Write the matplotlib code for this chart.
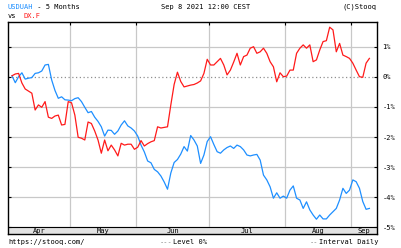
import numpy as np
import matplotlib
matplotlib.use("Agg")
import matplotlib.pyplot as plt

plt.rcParams['font.family'] = ['DejaVu Sans Mono']
plt.rcParams['axes.unicode_minus'] = False

# trading days per month shown on the chart
MONTHS = ["Apr", "May", "Jun", "Jul", "Aug", "Sep"]
DAYS_IN_MONTH = [18, 20, 22, 23, 20, 6]

# % change since start
usduah = [0.04, -0.19, 0.01, 0.14, -0.07, -0.04, -0.02, 0.12, 0.14, 0.20,
          0.40, 0.42, -0.10, -0.45, -0.71, -0.66, -0.76, -0.77, -0.79, -0.72,
          -0.69, -0.82, -1.01, -1.19, -1.15, -1.34, -1.48, -1.66, -1.97, -1.77,
          -1.78, -1.91, -1.80, -1.60, -1.46, -1.63, -1.70, -1.80, -1.97, -2.27,
          -2.50, -2.80, -2.86, -3.08, -3.16, -3.30, -3.50, -3.74, -3.20, -2.85,
          -2.75, -2.57, -2.32, -2.47, -1.95, -2.10, -2.30, -2.88, -2.60, -2.15,
          -1.99, -2.25, -2.49, -2.54, -2.43, -2.35, -2.30, -2.38, -2.27, -2.32,
          -2.43, -2.60, -2.63, -2.60, -2.58, -2.77, -3.27, -3.43, -3.66, -4.04,
          -3.86, -4.04, -3.97, -4.04, -3.77, -3.63, -4.04, -4.10, -4.38, -4.16,
          -4.43, -4.60, -4.74, -4.60, -4.73, -4.73, -4.60, -4.49, -4.38, -4.10,
          -3.71, -3.88, -3.77, -3.43, -3.49, -3.71, -4.15, -4.41, -4.38]

dxf = [0.04, 0.10, 0.12, -0.20, -0.40, -0.47, -0.54, -1.10, -0.93, -1.01,
       -0.82, -1.34, -1.38, -1.30, -1.27, -1.60, -1.58, -0.82, -0.86, -1.27,
       -2.01, -2.04, -2.10, -1.50, -1.55, -1.80, -2.10, -2.54, -2.10, -2.46,
       -2.27, -2.43, -2.63, -2.21, -2.27, -2.24, -2.24, -2.41, -2.34, -2.12,
       -2.30, -2.22, -2.16, -2.12, -1.66, -1.70, -1.68, -1.66, -0.93, -0.25,
       0.16, -0.15, -0.33, -0.30, -0.27, -0.25, -0.20, -0.13, 0.12, 0.59,
       0.40, 0.40, 0.51, 0.62, 0.40, 0.07, 0.23, 0.50, 0.79, 0.40,
       0.68, 0.73, 0.96, 1.01, 0.79, 0.84, 0.96, 0.79, 0.51, 0.34,
       -0.16, 0.14, 0.01, 0.03, 0.23, 0.23, 0.79, 0.96, 1.07, 0.96,
       1.07, 0.51, 0.57, 0.90, 1.18, 1.21, 1.66, 1.57, 0.84, 1.12,
       0.73, 0.68, 0.62, 0.46, 0.23, 0.01, -0.01, 0.46, 0.62]

Y_TICKS = [1, 0, -1, -2, -3, -4, -5]

BLUE = '#1e8fff'
RED = '#ff1a1a'
GRID = '#c8c8c8'
FS = 5.0

W, H = 401, 248
fig = plt.figure(figsize=(W / 100, H / 100), dpi=100)
ax = fig.add_axes([8 / W, (H - 234) / H, (377 - 8) / W, (234 - 22) / H])

x = np.arange(len(usduah))
xmin, xmax = -1.2, len(usduah) - 1 + 2.3
ymin, ymax = -5.233, 1.833
ax.set_xlim(xmin, xmax)
ax.set_ylim(ymin, ymax)

# month boundaries and label centres
bounds = np.cumsum(DAYS_IN_MONTH)[:-1] - 0.5
edges = np.concatenate([[xmin], bounds, [xmax]])
centres = (edges[:-1] + edges[1:]) / 2

# grid
for b in bounds:
    ax.plot([b, b], [-5, ymax], color=GRID, lw=0.9, zorder=1)
for t in Y_TICKS:
    if t == 0:
        ax.axhline(t, color='#909090', lw=0.9, ls=(0, (1, 2)), zorder=1)
    elif t > -5:
        ax.axhline(t, color=GRID, lw=0.9, zorder=1)

# month strip at bottom
ax.axhspan(ymin, -5, color='#e2e2e2', zorder=1)
ax.axhline(-5, color='black', lw=0.8, zorder=2)
for c, m in zip(centres, MONTHS):
    ax.text(c, (ymin - 5) / 2, m, ha='center', va='center', fontsize=FS, zorder=3)

ax.plot(x, usduah, color=BLUE, lw=0.9, zorder=4)
ax.plot(x, dxf, color=RED, lw=0.9, zorder=5)

ax.set_yticks(Y_TICKS)
ax.set_yticklabels([f"{t}%" for t in Y_TICKS])
ax.set_xticks(bounds)
ax.set_xticklabels([])
ax.tick_params(axis='y', left=True, right=True, labelleft=False, labelright=True,
               direction='in', length=2, width=0.8, labelsize=FS, pad=4)
ax.tick_params(axis='x', top=True, bottom=False, direction='in', length=2, width=0.8)
for s in ax.spines.values():
    s.set_linewidth(1.0)
    s.set_color('black')

# header
def px(xp, yp):
    return xp / W, 1 - yp / H

fig.text(*px(8, 7), "USDUAH", color=BLUE, fontsize=FS, va='center')
fig.text(*px(33, 7), " - 5 Months", color='black', fontsize=FS, va='center')
fig.text(*px(8, 16), "vs", color='black', fontsize=FS, va='center')
fig.text(*px(24, 16), "DX.F", color=RED, fontsize=FS, va='center')
fig.text(*px(206, 7), "Sep 8 2021 12:00 CEST", fontsize=FS, va='center', ha='center')
fig.text(*px(377, 7), "(C)Stooq", fontsize=FS, va='center', ha='right')

# footer
fig.text(*px(8, 242), "https://stooq.com/", fontsize=FS, va='center')
fig.text(*px(160, 242), "---", color='#808080', fontsize=FS, va='center')
fig.text(*px(173, 242), "Level 0%", fontsize=FS, va='center')
fig.text(*px(310, 242), "--", color='#808080', fontsize=FS, va='center')
fig.text(*px(319, 242), "Interval Daily", fontsize=FS, va='center')

fig.savefig("out.png", dpi=100)
